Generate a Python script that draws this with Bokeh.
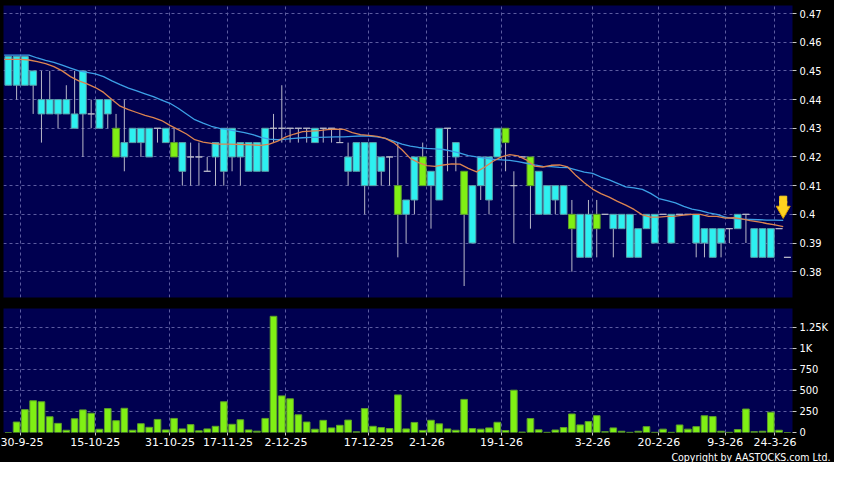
from bokeh.plotting import figure
from bokeh.layouts import column
from bokeh.models import ColumnDataSource, Range1d, FixedTicker, NumeralTickFormatter, Title
from bokeh.embed import file_html
from bokeh.resources import INLINE

# ---------------- data ----------------
opens = [0.455, 0.455, 0.455, 0.45, 0.44, 0.44, 0.44, 0.44, 0.435, 0.45,
         0.435, 0.44, 0.44, 0.42, 0.425, 0.43, 0.43, 0.43, 0.43, 0.43,
         0.42, 0.425, 0.42, 0.42, 0.415, 0.425, 0.43, 0.43, 0.425, 0.425,
         0.425, 0.43, 0.43, 0.43, 0.43, 0.43, 0.43, 0.43, 0.43, 0.43,
         0.425, 0.42, 0.425, 0.425, 0.425, 0.42, 0.42, 0.40, 0.405, 0.42,
         0.41, 0.415, 0.43, 0.43, 0.425, 0.40, 0.41, 0.42, 0.42, 0.43,
         0.425, 0.41, 0.42, 0.41, 0.415, 0.41, 0.41, 0.41, 0.395, 0.40,
         0.40, 0.395, 0.40, 0.40, 0.40, 0.40, 0.395, 0.40, 0.40, 0.40,
         0.40, 0.40, 0.40, 0.40, 0.395, 0.395, 0.395, 0.395, 0.40, 0.40,
         0.395, 0.395, 0.395, 0.395, 0.385]
highs = [0.455, 0.455, 0.455, 0.45, 0.45, 0.45, 0.44, 0.445, 0.45, 0.45,
         0.44, 0.44, 0.44, 0.435, 0.44, 0.43, 0.43, 0.43, 0.43, 0.43,
         0.43, 0.425, 0.425, 0.425, 0.42, 0.425, 0.43, 0.43, 0.425, 0.425,
         0.425, 0.43, 0.435, 0.445, 0.43, 0.43, 0.43, 0.43, 0.43, 0.43,
         0.43, 0.425, 0.425, 0.425, 0.425, 0.42, 0.42, 0.425, 0.405, 0.42,
         0.425, 0.415, 0.43, 0.43, 0.425, 0.415, 0.41, 0.42, 0.42, 0.43,
         0.43, 0.415, 0.42, 0.42, 0.415, 0.41, 0.41, 0.41, 0.405, 0.40,
         0.405, 0.405, 0.40, 0.40, 0.40, 0.40, 0.395, 0.40, 0.40, 0.40,
         0.40, 0.40, 0.40, 0.40, 0.395, 0.395, 0.395, 0.395, 0.40, 0.40,
         0.395, 0.395, 0.395, 0.395, 0.385]
lows = [0.445, 0.44, 0.445, 0.435, 0.425, 0.435, 0.43, 0.435, 0.43, 0.42,
        0.43, 0.43, 0.43, 0.42, 0.415, 0.425, 0.42, 0.42, 0.425, 0.425,
        0.42, 0.41, 0.41, 0.41, 0.415, 0.41, 0.41, 0.415, 0.41, 0.415,
        0.415, 0.415, 0.425, 0.425, 0.425, 0.425, 0.425, 0.425, 0.425, 0.425,
        0.425, 0.41, 0.415, 0.40, 0.41, 0.41, 0.41, 0.385, 0.39, 0.40,
        0.41, 0.395, 0.405, 0.415, 0.415, 0.375, 0.39, 0.405, 0.40, 0.42,
        0.415, 0.39, 0.42, 0.395, 0.40, 0.40, 0.40, 0.40, 0.38, 0.385,
        0.385, 0.385, 0.40, 0.385, 0.395, 0.385, 0.385, 0.395, 0.39, 0.40,
        0.39, 0.40, 0.40, 0.385, 0.385, 0.385, 0.385, 0.39, 0.395, 0.39,
        0.385, 0.385, 0.385, 0.395, 0.385]
closes = [0.445, 0.445, 0.445, 0.445, 0.435, 0.435, 0.435, 0.435, 0.43, 0.435,
          0.435, 0.43, 0.435, 0.43, 0.42, 0.425, 0.425, 0.42, 0.43, 0.425,
          0.425, 0.415, 0.42, 0.42, 0.415, 0.42, 0.415, 0.42, 0.42, 0.415,
          0.415, 0.415, 0.43, 0.43, 0.43, 0.43, 0.43, 0.425, 0.43, 0.43,
          0.425, 0.415, 0.415, 0.41, 0.41, 0.415, 0.42, 0.41, 0.40, 0.405,
          0.42, 0.41, 0.405, 0.43, 0.42, 0.415, 0.39, 0.41, 0.405, 0.42,
          0.43, 0.41, 0.42, 0.42, 0.40, 0.40, 0.405, 0.40, 0.40, 0.385,
          0.385, 0.40, 0.40, 0.395, 0.395, 0.385, 0.385, 0.395, 0.39, 0.40,
          0.39, 0.40, 0.40, 0.39, 0.39, 0.385, 0.39, 0.395, 0.395, 0.40,
          0.385, 0.385, 0.385, 0.395, 0.385]
volumes = [0, 125, 273, 379, 367, 188, 109, 27, 164, 270,
           230, 39, 285, 141, 289, 27, 105, 62, 156, 31,
           168, 43, 94, 20, 43, 74, 367, 98, 152, 31,
           16, 168, 1387, 437, 402, 211, 125, 39, 145, 55,
           86, 148, 8, 285, 74, 59, 47, 449, 43, 120,
           25, 146, 103, 43, 27, 395, 47, 40, 55, 122,
           24, 505, 5, 166, 32, 2, 30, 59, 221, 91,
           130, 201, 10, 55, 15, 2, 15, 70, 2, 40,
           2, 90, 40, 70, 200, 190, 15, 2, 35, 280,
           10, 15, 242, 27, 0]
ma_short = [0.454, 0.454, 0.454, 0.4538, 0.4532, 0.4525, 0.4515, 0.450, 0.448, 0.4465,
            0.4455, 0.4442, 0.4425, 0.440, 0.4377, 0.4365, 0.4355, 0.4345, 0.4337, 0.4327,
            0.431, 0.4295, 0.428, 0.426, 0.4252, 0.4247, 0.4245, 0.4245, 0.4244, 0.4243,
            0.4242, 0.424, 0.4245, 0.4255, 0.427, 0.428, 0.4288, 0.429, 0.4292, 0.4295,
            0.4297, 0.4296, 0.4285, 0.4278, 0.4275, 0.4272, 0.4265, 0.425, 0.4225, 0.4195,
            0.418, 0.417, 0.4167, 0.4172, 0.4176, 0.4175, 0.416, 0.4148, 0.4165, 0.4185,
            0.420, 0.4208, 0.4204, 0.419, 0.4168, 0.4165, 0.4171, 0.4172, 0.4165, 0.4135,
            0.411, 0.4088, 0.4072, 0.406, 0.4045, 0.4032, 0.4017, 0.3998, 0.399, 0.399,
            0.3993, 0.3994, 0.3997, 0.400, 0.400, 0.3993, 0.3993, 0.3987, 0.3988, 0.3984,
            0.3978, 0.3974, 0.3968, 0.3963, 0.3957]
ma_long = [0.4555, 0.4555, 0.4555, 0.4555, 0.4545, 0.4537, 0.453, 0.452, 0.451, 0.450,
           0.4495, 0.449, 0.448, 0.4465, 0.4452, 0.444, 0.443, 0.442, 0.441, 0.4398,
           0.4387, 0.437, 0.435, 0.433, 0.4318, 0.4307, 0.430, 0.4295, 0.429, 0.4285,
           0.4278, 0.4268, 0.4262, 0.426, 0.4262, 0.4265, 0.4267, 0.4268, 0.4268, 0.4269,
           0.427, 0.427, 0.4272, 0.4273, 0.4273, 0.427, 0.4265, 0.4255, 0.4245, 0.4238,
           0.4233, 0.423, 0.4228, 0.4226, 0.422, 0.4213, 0.4205, 0.420, 0.4196, 0.4192,
           0.419, 0.4188, 0.4184, 0.4178, 0.4172, 0.4167, 0.4166, 0.4164, 0.4163, 0.4155,
           0.4147, 0.4143, 0.413, 0.412, 0.4108, 0.4096, 0.4092, 0.4087, 0.4073, 0.4055,
           0.4048, 0.404, 0.4028, 0.4018, 0.4013, 0.4005, 0.400, 0.399, 0.3985, 0.3983,
           0.3982, 0.3981, 0.398, 0.398, 0.3979]
date_ticks = [2.5, 11.5, 20.5, 27.5, 34.5, 44.5, 51.5, 60.5, 71.5, 79.5, 87.5, 93.5]
date_labels = ["30-9-25", "15-10-25", "31-10-25", "17-11-25", "2-12-25", "17-12-25",
               "2-1-26", "19-1-26", "3-2-26", "20-2-26", "9-3-26", "24-3-26"]
price_ticks = [0.38, 0.39, 0.40, 0.41, 0.42, 0.43, 0.44, 0.45, 0.46, 0.47]
volume_ticks = [0, 250, 500, 750, 1000, 1250]
volume_labels = ["0", "250", "500", "750", "1K", "1.25K"]
arrow_price = 0.4014

# ---------------- styling ----------------
BG = "#000050"
GRID = "#5C5CA0"
WICK = "#B8B8C8"
CYAN, CYAN_EDGE = "#2DF0F0", "#5A9EA8"
LIME, LIME_EDGE = "#80F014", "#5C9E2A"
GOLD, GOLD_EDGE = "#FFD21F", "#D89A00"
AXIS_FONT = "DejaVu Sans Condensed"

N = len(closes)
xs = list(range(1, N + 1))
x_range = Range1d(0.42, N + 0.62)


def style_axis(ax):
    ax.axis_line_color = None
    ax.major_tick_in = 0
    ax.major_tick_out = 4
    ax.minor_tick_line_color = None
    ax.major_tick_line_color = "#C8C8C8"
    ax.major_label_text_color = "white"
    ax.major_label_text_font = AXIS_FONT
    ax.major_label_text_font_size = "11px"
    ax.major_label_standoff = 3


def style_grid(g, ticks):
    g.ticker = FixedTicker(ticks=ticks)
    g.grid_line_color = GRID
    g.grid_line_dash = "3 3"
    g.grid_line_width = 1


# ---------------- price panel ----------------
p1 = figure(width=834, height=308, x_range=x_range, y_range=Range1d(0.371, 0.4728),
            output_backend="svg", toolbar_location=None, x_axis_location=None,
            y_axis_location="right", min_border_left=3, min_border_right=42,
            min_border_top=5, min_border_bottom=11, background_fill_color=BG,
            border_fill_color="black", outline_line_color=None)
p1.yaxis.ticker = FixedTicker(ticks=price_ticks)
p1.yaxis.formatter = NumeralTickFormatter(format="0.[00]")
style_axis(p1.yaxis[0])
style_grid(p1.xgrid[0], date_ticks)
style_grid(p1.ygrid[0], price_ticks)

up = [i for i in range(N) if closes[i] > opens[i]]
down = [i for i in range(N) if closes[i] < opens[i]]
flat = [i for i in range(N) if closes[i] == opens[i]]

all_src = ColumnDataSource(dict(x=xs, high=highs, low=lows))
p1.segment(x0="x", y0="low", x1="x", y1="high", source=all_src, line_color=WICK, line_width=1)

up_src = ColumnDataSource(dict(x=[xs[i] for i in up], top=[closes[i] for i in up],
                               bottom=[opens[i] for i in up]))
down_src = ColumnDataSource(dict(x=[xs[i] for i in down], top=[opens[i] for i in down],
                                 bottom=[closes[i] for i in down]))
flat_src = ColumnDataSource(dict(x=[xs[i] for i in flat], top=[closes[i] for i in flat],
                                 bottom=[closes[i] for i in flat]))
p1.vbar(x="x", width=0.82, top="top", bottom="bottom", source=up_src,
        fill_color=LIME, line_color=LIME_EDGE, line_width=1)
p1.vbar(x="x", width=0.82, top="top", bottom="bottom", source=down_src,
        fill_color=CYAN, line_color=CYAN_EDGE, line_width=1)
p1.vbar(x="x", width=0.82, top="top", bottom="bottom", source=flat_src,
        fill_color=None, line_color=WICK, line_width=1)

ma_x = [x - 0.5 for x in xs]
p1.line(ma_x, ma_long, line_color="#3CA0E6", line_width=1.3)
p1.line(ma_x, ma_short, line_color="#DC8450", line_width=1.3)

# latest-price marker arrow (head + shaft)
p1.scatter(x=[N - 0.5], y=[arrow_price], marker="inverted_triangle", size=14,
           fill_color=GOLD, line_color=GOLD_EDGE, line_width=1)
p1.scatter(x=[N - 0.5, N - 0.5], y=[arrow_price + 0.0037, arrow_price + 0.0020],
           marker="square", size=7, fill_color=GOLD, line_color=GOLD)

# ---------------- volume panel ----------------
p2 = figure(width=834, height=154, x_range=x_range, y_range=Range1d(0, 1480),
            output_backend="svg", toolbar_location=None, y_axis_location="right",
            min_border_left=3, min_border_right=42, min_border_top=0, min_border_bottom=0,
            background_fill_color=BG, border_fill_color="black", outline_line_color=None)
p2.yaxis.ticker = FixedTicker(ticks=volume_ticks)
p2.yaxis.major_label_overrides = {t: s for t, s in zip(volume_ticks, volume_labels)}
style_axis(p2.yaxis[0])
p2.xaxis.ticker = FixedTicker(ticks=date_ticks)
p2.xaxis.major_label_overrides = {t: s for t, s in zip(date_ticks, date_labels)}
style_axis(p2.xaxis[0])
p2.xaxis.major_tick_out = 3
p2.xaxis.major_label_text_font = "DejaVu Sans"
p2.xaxis.major_label_standoff = 2
style_grid(p2.xgrid[0], date_ticks)
style_grid(p2.ygrid[0], volume_ticks)

p2.vbar(x=xs, width=0.8, top=volumes, bottom=0, fill_color=LIME, line_color=LIME_EDGE,
        line_width=1)

p2.add_layout(Title(text="Copyright by AASTOCKS.com Ltd.", align="right", text_color="white",
                    text_font=AXIS_FONT, text_font_size="10.5px", text_font_style="normal",
                    offset=-38, standoff=0), "below")

layout = column(p1, p2, spacing=0)
layout.background = "black"
open("out.html", "w").write(file_html(layout, INLINE))
